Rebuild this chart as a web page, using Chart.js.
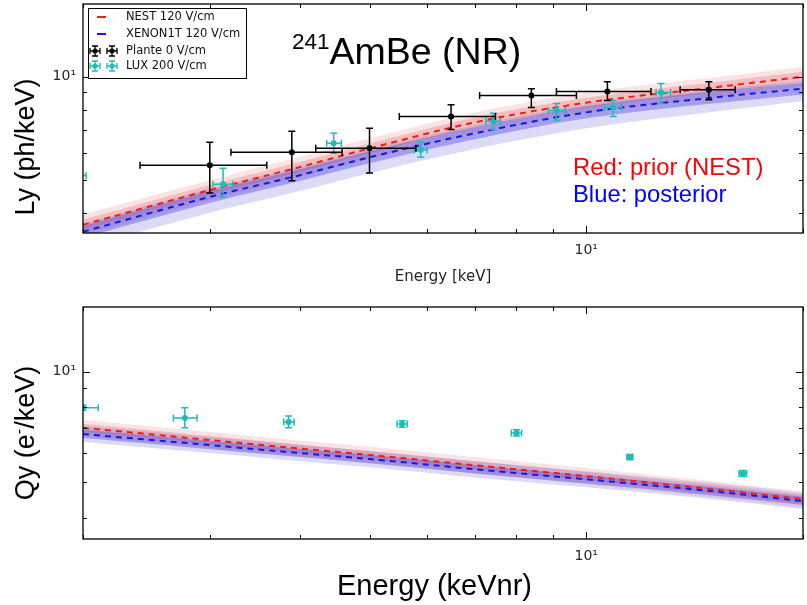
<!DOCTYPE html>
<html>
<head>
    <title>241AmBe (NR) yields</title>
    <script src="https://cdn.jsdelivr.net/npm/chart.js"></script>
    <style>
        body { margin: 0; background: #fff; }
        #page { position: relative; width: 807px; height: 605px; overflow: hidden; font-family: "Liberation Sans", Arial, sans-serif; }
        canvas { position: absolute; left: 0; }
        #lyChart { top: 0; }
        #qyChart { top: 290px; }
        .note { position: absolute; white-space: nowrap; line-height: 1; }
        .ytitle { position: absolute; white-space: nowrap; line-height: 1; font-size: 27px; transform: translate(-50%, -50%) rotate(-90deg); }
    </style>
</head>
<body>
<div id="page">
    <canvas id="lyChart" width="807" height="290"></canvas>
    <canvas id="qyChart" width="807" height="315"></canvas>

    <div class="note" style="left:292px; top:33px; font-size:37.5px;"><span style="font-size:22.5px; position:relative; top:-15px;">241</span>AmBe (NR)</div>
    <div class="note" style="left:573px; top:155px; font-size:23.8px; color:#ff0000;">Red: prior (NEST)</div>
    <div class="note" style="left:573px; top:182px; font-size:23.8px; color:#0000ff;">Blue: posterior</div>
    <div class="ytitle" style="left:25px; top:147px;">Ly (ph/keV)</div>
    <div class="ytitle" style="left:25px; top:433px;">Qy (e<sup style="font-size:16px; line-height:0;">-</sup>/keV)</div>
    <div class="note" style="left:337px; top:571px; font-size:29px;">Energy (keVnr)</div>
</div>

<script>
    // model curves, sampled along energy (keV)
    const energy = [2, 3, 4, 5, 7, 10, 15, 20];

    const lyNest     = [3.70, 4.67, 5.45, 6.18, 7.36, 8.40, 9.30, 10.0];
    const lyNestLo95 = [3.46, 4.37, 5.10, 5.78, 6.88, 7.86, 8.70, 9.35];
    const lyNestHi95 = [3.96, 4.99, 5.83, 6.61, 7.87, 8.98, 9.94, 10.69];
    const lyNestLo68 = [3.58, 4.52, 5.27, 5.98, 7.12, 8.12, 8.99, 9.67];
    const lyNestHi68 = [3.83, 4.83, 5.64, 6.39, 7.61, 8.69, 9.62, 10.34];
    const lyPost     = [3.53, 4.46, 5.16, 5.82, 6.84, 7.87, 8.69, 9.23];
    const lyPostLo95 = [3.17, 4.01, 4.64, 5.23, 6.15, 7.07, 7.90, 8.50];
    const lyPostHi95 = [3.72, 4.71, 5.44, 6.14, 7.22, 8.30, 9.17, 9.74];
    const lyPostLo68 = [3.39, 4.28, 4.96, 5.59, 6.57, 7.56, 8.35, 8.87];
    const lyPostHi68 = [3.67, 4.64, 5.37, 6.06, 7.12, 8.19, 9.05, 9.61];

    const qyNest     = [7.03, 6.51, 6.17, 5.93, 5.56, 5.19, 4.78, 4.49];
    const qyNestLo95 = [6.68, 6.19, 5.87, 5.64, 5.29, 4.93, 4.54, 4.27];
    const qyNestHi95 = [7.40, 6.85, 6.49, 6.24, 5.85, 5.46, 5.03, 4.72];
    const qyNestLo68 = [6.85, 6.35, 6.01, 5.78, 5.42, 5.06, 4.66, 4.38];
    const qyNestHi68 = [7.21, 6.68, 6.33, 6.08, 5.70, 5.33, 4.90, 4.61];
    const qyPost     = [6.76, 6.31, 6.00, 5.78, 5.42, 5.09, 4.72, 4.44];
    const qyPostLo95 = [6.43, 6.00, 5.70, 5.49, 5.15, 4.84, 4.49, 4.22];
    const qyPostHi95 = [7.11, 6.64, 6.31, 6.08, 5.70, 5.35, 4.97, 4.67];
    const qyPostLo68 = [6.59, 6.15, 5.85, 5.63, 5.28, 4.96, 4.60, 4.33];
    const qyPostHi68 = [6.94, 6.47, 6.16, 5.93, 5.56, 5.22, 4.84, 4.56];

    // Plante 0 V/cm
    const plantE    = [3.00, 3.90, 5.00, 6.49, 8.39, 10.7, 14.8];
    const plantELo  = [2.40, 3.21, 4.21, 5.50, 7.11, 9.09, 13.5];
    const plantEHi  = [3.60, 4.58, 5.80, 7.48, 9.69, 12.3, 16.1];
    const plantLy   = [5.52, 6.02, 6.18, 7.66, 8.81, 9.05, 9.17];
    const plantLyLo = [4.58, 4.97, 5.24, 7.02, 8.13, 8.52, 8.57];
    const plantLyHi = [6.44, 6.93, 7.07, 8.29, 9.23, 9.67, 9.67];

    // LUX 200 V/cm, light
    const luxE    = [1.96, 3.13, 4.46, 5.89, 7.43, 9.09, 10.9, 12.7];
    const luxELo  = [1.90, 3.03, 4.36, 5.77, 7.25, 8.86, 10.6, 12.5];
    const luxEHi  = [2.02, 3.23, 4.57, 6.01, 7.60, 9.35, 11.2, 13.1];
    const luxLy   = [5.15, 4.86, 6.40, 6.11, 7.41, 7.97, 8.13, 8.99];
    const luxLyLo = [4.80, 4.46, 5.98, 5.82, 7.02, 7.45, 7.66, 8.35];
    const luxLyHi = [5.50, 5.41, 6.84, 6.44, 7.82, 8.35, 8.52, 9.55];

    // LUX 200 V/cm, charge
    const luxQE    = [2.00, 2.77, 3.86, 5.55, 8.00, 11.5, 16.5];
    const luxQELo  = [1.90, 2.67, 3.80, 5.46, 7.87, 11.39, 16.3];
    const luxQEHi  = [2.10, 2.88, 3.93, 5.64, 8.13, 11.61, 16.7];
    const luxQy    = [7.97, 7.48, 7.29, 7.20, 6.81, 5.85, 5.28];
    const luxQyLo  = [7.85, 7.03, 7.03, 7.05, 6.68, 5.75, 5.18];
    const luxQyHi  = [8.10, 7.97, 7.57, 7.35, 6.95, 5.95, 5.38];

    const energyTicks = [2, 3, 4, 5, 6, 7, 8, 9, 10, 20];
    const yieldTicks = [4, 5, 6, 7, 8, 9, 10];

    const RED = '#ee1c1c';
    const BLUE = '#1616ee';
    const CYAN = '#1cbcbc';

    function pts(xs, ys) {
        return xs.map((x, i) => ({ x: x, y: ys[i] }));
    }

    function band(lo, hi, color, order) {
        return [
            { data: pts(energy, lo), borderWidth: 0, pointRadius: 0, fill: false, order: order, cubicInterpolationMode: 'monotone' },
            { data: pts(energy, hi), borderWidth: 0, pointRadius: 0, fill: '-1', backgroundColor: color, order: order, cubicInterpolationMode: 'monotone' }
        ];
    }

    function curve(vals, color) {
        return { data: pts(energy, vals), borderColor: color, borderWidth: 2, borderDash: [6, 5], pointRadius: 0, fill: false, order: 1, cubicInterpolationMode: 'monotone' };
    }

    function points(xs, ys, color, err) {
        return { data: pts(xs, ys), showLine: false, pointRadius: 3, pointBackgroundColor: color, pointBorderColor: color, pointBorderWidth: 0, order: 0, errorBars: err, errColor: color };
    }

    // draw x/y error bars under the markers
    const errorBars = {
        id: 'errorBars',
        beforeDatasetDraw(chart, args) {
            const ds = chart.data.datasets[args.index];
            if (!ds.errorBars) return;
            const { ctx, chartArea: a, scales: { x, y } } = chart;
            const e = ds.errorBars;
            ctx.save();
            ctx.beginPath();
            ctx.rect(a.left, a.top, a.right - a.left, a.bottom - a.top);
            ctx.clip();
            ctx.strokeStyle = ds.errColor;
            ctx.lineWidth = 1.5;
            const cap = 3.5;
            ds.data.forEach((p, i) => {
                const px = x.getPixelForValue(p.x), py = y.getPixelForValue(p.y);
                const x0 = x.getPixelForValue(e.xLo[i]), x1 = x.getPixelForValue(e.xHi[i]);
                const y0 = y.getPixelForValue(e.yLo[i]), y1 = y.getPixelForValue(e.yHi[i]);
                ctx.beginPath();
                ctx.moveTo(x0, py); ctx.lineTo(x1, py);
                ctx.moveTo(x0, py - cap); ctx.lineTo(x0, py + cap);
                ctx.moveTo(x1, py - cap); ctx.lineTo(x1, py + cap);
                ctx.moveTo(px, y0); ctx.lineTo(px, y1);
                ctx.moveTo(px - cap, y0); ctx.lineTo(px + cap, y0);
                ctx.moveTo(px - cap, y1); ctx.lineTo(px + cap, y1);
                ctx.stroke();
            });
            ctx.restore();
        }
    };

    // matplotlib style frame with inward ticks on all sides
    const frameTicks = {
        id: 'frameTicks',
        afterDatasetsDraw(chart) {
            const { ctx, chartArea: a, scales: { x, y } } = chart;
            ctx.save();
            ctx.strokeStyle = '#000';
            ctx.lineWidth = 1;
            ctx.beginPath();
            energyTicks.forEach(v => {
                const px = Math.round(x.getPixelForValue(v)) + 0.5;
                const len = v === 10 ? 7 : 4;
                ctx.moveTo(px, a.bottom); ctx.lineTo(px, a.bottom - len);
                ctx.moveTo(px, a.top); ctx.lineTo(px, a.top + len);
            });
            yieldTicks.forEach(v => {
                const py = Math.round(y.getPixelForValue(v)) + 0.5;
                const len = v === 10 ? 7 : 4;
                ctx.moveTo(a.left, py); ctx.lineTo(a.left + len, py);
                ctx.moveTo(a.right, py); ctx.lineTo(a.right - len, py);
            });
            ctx.stroke();
            ctx.lineWidth = 1.3;
            ctx.strokeRect(a.left, a.top, a.right - a.left, a.bottom - a.top);
            ctx.restore();
        }
    };

    function errGlyph(ctx, cx, cy, color) {
        ctx.strokeStyle = color;
        ctx.fillStyle = color;
        ctx.lineWidth = 1.3;
        ctx.beginPath();
        ctx.moveTo(cx - 5, cy); ctx.lineTo(cx + 5, cy);
        ctx.moveTo(cx, cy - 5); ctx.lineTo(cx, cy + 5);
        ctx.moveTo(cx - 5, cy - 3); ctx.lineTo(cx - 5, cy + 3);
        ctx.moveTo(cx + 5, cy - 3); ctx.lineTo(cx + 5, cy + 3);
        ctx.moveTo(cx - 3, cy - 5); ctx.lineTo(cx + 3, cy - 5);
        ctx.moveTo(cx - 3, cy + 5); ctx.lineTo(cx + 3, cy + 5);
        ctx.stroke();
        ctx.beginPath();
        ctx.arc(cx, cy, 2.5, 0, Math.PI * 2);
        ctx.fill();
    }

    const boxLegend = {
        id: 'boxLegend',
        afterDraw(chart) {
            const ctx = chart.ctx;
            ctx.save();
            ctx.fillStyle = '#fff';
            ctx.fillRect(88.5, 8.5, 158, 70);
            ctx.strokeStyle = '#000';
            ctx.lineWidth = 1;
            ctx.strokeRect(88.5, 8.5, 158, 70);
            ctx.lineWidth = 2;
            ctx.strokeStyle = RED;
            ctx.beginPath(); ctx.moveTo(97, 17); ctx.lineTo(106, 17); ctx.stroke();
            ctx.strokeStyle = BLUE;
            ctx.beginPath(); ctx.moveTo(97, 34); ctx.lineTo(106, 34); ctx.stroke();
            errGlyph(ctx, 95, 51, '#000');
            errGlyph(ctx, 112, 51, '#000');
            errGlyph(ctx, 95, 66, CYAN);
            errGlyph(ctx, 112, 66, CYAN);
            ctx.fillStyle = '#111';
            ctx.font = '11.5px "DejaVu Sans"';
            ctx.textBaseline = 'middle';
            ctx.fillText('NEST 120 V/cm', 126, 17);
            ctx.fillText('XENON1T 120 V/cm', 126, 34);
            ctx.fillText('Plante 0 V/cm', 126, 51);
            ctx.fillText('LUX 200 V/cm', 126, 66);
            ctx.restore();
        }
    };

    function noPad(s) {
        s.paddingTop = 0; s.paddingBottom = 0; s.paddingLeft = 0; s.paddingRight = 0;
    }

    function axes(yMin, yMax, xHeight, xTitle) {
        const tickFont = { family: 'DejaVu Sans', size: 14 };
        return {
            x: {
                type: 'logarithmic', min: 2, max: 20,
                grid: { display: false, drawTicks: false },
                border: { display: false },
                afterBuildTicks: s => { s.ticks = energyTicks.map(v => ({ value: v })); },
                afterFit: s => { s.height = xHeight; noPad(s); },
                ticks: { autoSkip: false, maxRotation: 0, padding: 9, color: '#262626', font: tickFont,
                         callback: v => v === 10 ? '10\u00b9' : '' },
                title: xTitle ? { display: true, text: xTitle, color: '#262626',
                                  font: { family: 'DejaVu Sans', size: 15 }, padding: { top: 0, bottom: 4 } } : { display: false }
            },
            y: {
                type: 'logarithmic', min: yMin, max: yMax,
                grid: { display: false, drawTicks: false },
                border: { display: false },
                afterBuildTicks: s => { s.ticks = yieldTicks.map(v => ({ value: v })); },
                afterFit: s => { s.width = 83; noPad(s); },
                ticks: { autoSkip: false, padding: 7, color: '#262626', font: tickFont,
                         callback: v => v === 10 ? '10\u00b9' : '' }
            }
        };
    }

    const baseOptions = {
        responsive: false,
        animation: false,
        devicePixelRatio: 1,
        plugins: { legend: { display: false }, tooltip: { enabled: false } }
    };

    new Chart(document.getElementById('lyChart'), {
        type: 'line',
        data: {
            datasets: [
                ...band(lyNestLo95, lyNestHi95, 'rgba(235, 90, 90, 0.17)', 5),
                ...band(lyNestLo68, lyNestHi68, 'rgba(215, 70, 70, 0.24)', 4),
                ...band(lyPostLo95, lyPostHi95, 'rgba(90, 90, 225, 0.22)', 3),
                ...band(lyPostLo68, lyPostHi68, 'rgba(70, 50, 205, 0.36)', 2),
                curve(lyNest, RED),
                curve(lyPost, BLUE),
                points(plantE, plantLy, '#000', { xLo: plantELo, xHi: plantEHi, yLo: plantLyLo, yHi: plantLyHi }),
                points(luxE, luxLy, CYAN, { xLo: luxELo, xHi: luxEHi, yLo: luxLyLo, yHi: luxLyHi })
            ]
        },
        options: Object.assign({}, baseOptions, {
            layout: { padding: { top: 3, right: 2, left: 0, bottom: 0 } },
            scales: axes(3.5, 16.3, 57, 'Energy [keV]')
        }),
        plugins: [errorBars, frameTicks, boxLegend]
    });

    new Chart(document.getElementById('qyChart'), {
        type: 'line',
        data: {
            datasets: [
                ...band(qyNestLo95, qyNestHi95, 'rgba(235, 90, 90, 0.17)', 5),
                ...band(qyNestLo68, qyNestHi68, 'rgba(215, 70, 70, 0.24)', 4),
                ...band(qyPostLo95, qyPostHi95, 'rgba(90, 90, 225, 0.22)', 3),
                ...band(qyPostLo68, qyPostHi68, 'rgba(70, 50, 205, 0.36)', 2),
                curve(qyNest, RED),
                curve(qyPost, BLUE),
                points(luxQE, luxQy, CYAN, { xLo: luxQELo, xHi: luxQEHi, yLo: luxQyLo, yHi: luxQyHi })
            ]
        },
        options: Object.assign({}, baseOptions, {
            layout: { padding: { top: 17, right: 2, left: 0, bottom: 0 } },
            scales: axes(3.5, 15, 66, null)
        }),
        plugins: [errorBars, frameTicks]
    });
</script>
</body>
</html>
